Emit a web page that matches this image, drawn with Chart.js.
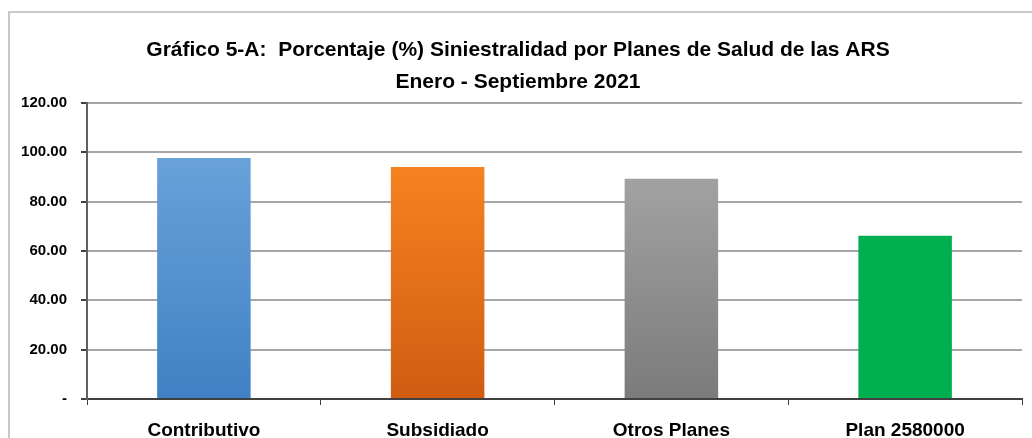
<!DOCTYPE html>
<html lang="es">
<head>
<meta charset="UTF-8">
<title>Siniestralidad por Planes</title>
<script src="https://cdn.jsdelivr.net/npm/chart.js"></script>
<style>
    html, body { margin: 0; padding: 0; background: #fff; }
    #wrap {
        position: relative;
        width: 1032px;
        height: 438px;
        overflow: hidden;
    }
    #frame {
        position: absolute;
        left: 8px;
        top: 11px;
        width: 1040px;
        height: 440px;
        border-left: 2px solid #c8c8c8;
        border-top: 2px solid #c8c8c8;
    }
    canvas { position: absolute; left: 0; top: 0; }
</style>
</head>
<body>
<div id="wrap">
    <div id="frame"></div>
    <canvas id="chart" width="1032" height="438"></canvas>
</div>
<script>
    const categories = ['Contributivo', 'Subsidiado', 'Otros Planes', 'Plan 2580000'];
    const siniestralidad = [97.6, 94.0, 89.2, 66.1];
    const yTicks = [0, 20, 40, 60, 80, 100, 120];
    const titleLines = ['Gráfico 5-A:  Porcentaje (%) Siniestralidad por Planes de Salud de las ARS', 'Enero - Septiembre 2021'];

    const barColors = [
        ['#73a8de', '#3f81c4'],
        ['#ff8d24', '#d05c12'],
        ['#afafaf', '#7b7b7b'],
        ['#00b050', '#00b050']
    ];

    const FONT = "'Liberation Sans', Arial, sans-serif";

    function barFill(ctx) {
        const chart = ctx.chart;
        const area = chart.chartArea;
        const c = barColors[ctx.dataIndex];
        if (!area) return c[0];
        const g = chart.ctx.createLinearGradient(0, area.top, 0, area.bottom);
        g.addColorStop(0, c[0]);
        g.addColorStop(1, c[1]);
        return g;
    }

    new Chart(document.getElementById('chart'), {
        type: 'bar',
        data: {
            labels: categories,
            datasets: [{
                data: siniestralidad,
                backgroundColor: barFill,
                borderWidth: 0,
                barPercentage: 0.4,
                categoryPercentage: 1
            }]
        },
        options: {
            responsive: false,
            animation: false,
            layout: { padding: { left: 14, right: 10, top: 0, bottom: 0 } },
            plugins: {
                legend: { display: false },
                tooltip: { enabled: false },
                title: {
                    display: true,
                    text: titleLines,
                    color: '#000',
                    font: { family: FONT, size: 21, weight: 'bold', lineHeight: 1.52 },
                    padding: { top: 34, bottom: 5 }
                }
            },
            scales: {
                x: {
                    grid: {
                        offset: true,
                        drawOnChartArea: false,
                        drawTicks: true,
                        tickLength: 6,
                        color: '#404040'
                    },
                    border: { color: '#404040', width: 2 },
                    ticks: {
                        color: '#000',
                        font: { family: FONT, size: 19, weight: 'bold' },
                        padding: 14
                    },
                    afterFit: s => { s.height = 39; }
                },
                y: {
                    min: 0,
                    max: 120,
                    afterBuildTicks: s => { s.ticks = yTicks.map(v => ({ value: v })); },
                    grid: {
                        color: '#a6a6a6',
                        lineWidth: 2,
                        tickLength: 6,
                        tickColor: '#404040'
                    },
                    border: { color: '#606060', width: 2 },
                    ticks: {
                        color: '#000',
                        font: { family: FONT, size: 15, weight: 'bold' },
                        padding: 14,
                        callback: v => v === 0 ? '-' : v.toFixed(2)
                    },
                    afterFit: s => { s.width = 73; }
                }
            }
        }
    });
</script>
</body>
</html>
